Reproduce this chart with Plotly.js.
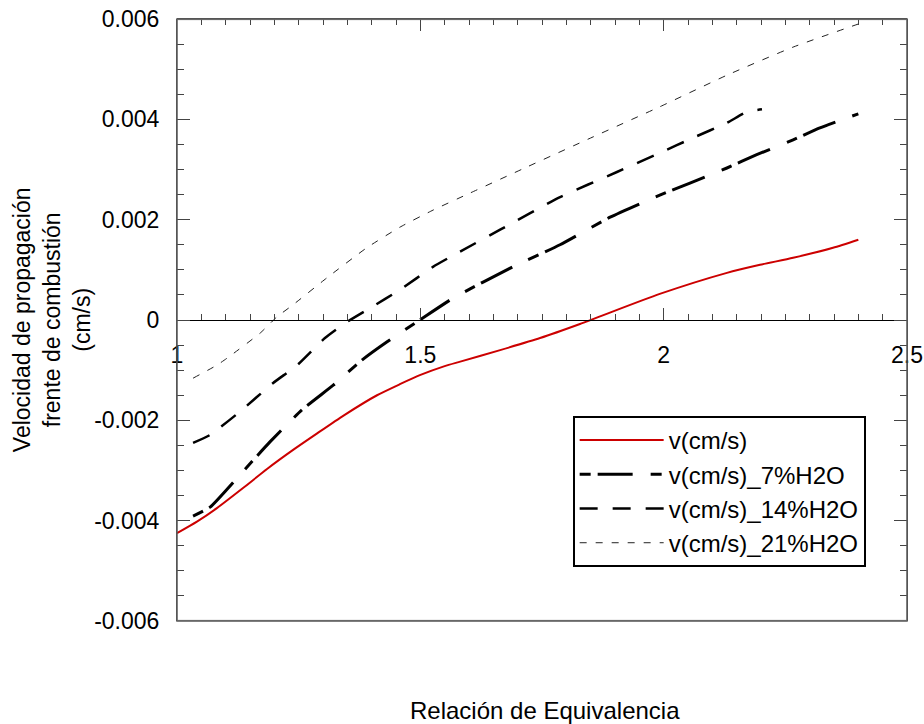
<!DOCTYPE html>
<html>
<head>
<meta charset="utf-8">
<script src="https://cdn.plot.ly/plotly-3.0.1.min.js"></script>
<style>html,body{margin:0;padding:0;background:#fff;}#chart{width:924px;height:724px;}</style>
</head>
<body>
<div id="chart"></div>
<script>
// Series names
const seriesNames = ["v(cm/s)", "v(cm/s)_7%H2O", "v(cm/s)_14%H2O", "v(cm/s)_21%H2O"];

// v(cm/s)
const x0 = [1.0, 1.041, 1.082, 1.137, 1.185, 1.24, 1.288, 1.343, 1.411, 1.458, 1.499, 1.55, 1.582, 1.664, 1.746, 1.828, 1.992, 2.13, 2.198, 2.266, 2.348, 2.4];
const y0 = [-0.00425, -0.00402, -0.00375, -0.00334, -0.00297, -0.00258, -0.00226, -0.0019, -0.0015, -0.00128, -0.0011, -0.00092, -0.00083, -0.0006, -0.00036, -0.00008, 0.00052, 0.00094, 0.0011, 0.00124, 0.00144, 0.0016];

// v(cm/s)_7%H2O
const x7 = [1.033, 1.068, 1.129, 1.191, 1.257, 1.321, 1.38, 1.431, 1.499, 1.568, 1.69, 1.787, 1.89, 1.992, 2.054, 2.13, 2.19, 2.266, 2.321, 2.4];
const y7 = [-0.00391, -0.00373, -0.00309, -0.00243, -0.00179, -0.0013, -0.0008, -0.00044, 0, 0.00044, 0.00106, 0.0015, 0.00205, 0.00249, 0.00273, 0.00303, 0.00329, 0.00359, 0.00383, 0.00411];

// v(cm/s)_14%H2O
const x14 = [1.033, 1.068, 1.129, 1.197, 1.247, 1.304, 1.349, 1.397, 1.458, 1.526, 1.581, 1.664, 1.787, 1.904, 1.992, 2.06, 2.13, 2.171, 2.202];
const y14 = [-0.00245, -0.00229, -0.00183, -0.00126, -0.0009, -0.00036, -0.00004, 0.00024, 0.0006, 0.00106, 0.00136, 0.0018, 0.00245, 0.00295, 0.00333, 0.00363, 0.00393, 0.00415, 0.0042];

// v(cm/s)_21%H2O
const x21 = [1.033, 1.082, 1.103, 1.171, 1.205, 1.238, 1.308, 1.39, 1.458, 1.526, 1.602, 1.719, 1.855, 1.992, 2.13, 2.266, 2.4];
const y21 = [-0.00116, -0.0009, -0.00076, -0.00026, 0.00006, 0.0003, 0.00084, 0.00144, 0.00185, 0.00219, 0.00253, 0.00305, 0.00365, 0.00425, 0.00488, 0.00544, 0.0059];

// Tick labels
const yTickVals = [-0.006, -0.004, -0.002, 0, 0.002, 0.004, 0.006];
const yTickText = ["-0.006", "-0.004", "-0.002", "0", "0.002", "0.004", "0.006"];
const xTickVals = [1, 1.5, 2, 2.5];
const xTickText = ["1", "1.5", "2", "2.5"];
const xTickBlank = ["", "", "", ""];

const FONT = "Liberation Sans, Arial, sans-serif";

const traces = [
  {x: x0, y: y0, name: seriesNames[0], mode: "lines", line: {color: "#cc0000", width: 2, shape: "spline", smoothing: 0.6}},
  {x: x7, y: y7, name: seriesNames[1], mode: "lines", line: {color: "#000", width: 3, dash: "11px,7px,35px,18px", shape: "spline", smoothing: 0.5}},
  {x: x14, y: y14, name: seriesNames[2], mode: "lines", line: {color: "#000", width: 2.5, dash: "18px,15px", shape: "spline", smoothing: 0.5}},
  {x: x21, y: y21, name: seriesNames[3], mode: "lines", line: {color: "#222", width: 1, dash: "7px,9px", shape: "spline", smoothing: 0.5}},
  // invisible carrier for the thin top-strip subplot that carries the top ticks
  {x: x0, y: y0, xaxis: "x2", yaxis: "y2", mode: "lines", opacity: 0, line: {width: 0}, showlegend: false, hoverinfo: "skip"}
];

const minorX = {dtick: 0.05, tick0: 1, ticks: "inside", ticklen: 6, tickcolor: "#444", showgrid: false};

const layout = {
  width: 924, height: 724,
  margin: {l: 177, r: 17, t: 19, b: 103},
  paper_bgcolor: "#fff", plot_bgcolor: "rgba(0,0,0,0)",
  font: {family: FONT, size: 23, color: "#000"},
  showlegend: true,
  legend: {
    x: 0.542, y: 0.3405, xanchor: "left", yanchor: "top",
    bordercolor: "#000", borderwidth: 2, bgcolor: "#fff",
    font: {family: FONT, size: 24, color: "#000"},
    itemwidth: 84, tracegroupgap: 0
  },
  // axis along y = 0 with labels below
  xaxis: {
    range: [1, 2.5], anchor: "free", position: 0.5,
    tickmode: "array", tickvals: xTickVals, ticktext: xTickText,
    ticks: "inside", ticklen: 12, tickwidth: 1, tickcolor: "#444",
    minor: minorX,
    showline: true, linecolor: "#000", linewidth: 1,
    showgrid: false, zeroline: false,
    ticklabelstandoff: 14,
    tickfont: {family: FONT, size: 23, color: "#000"}
  },
  // top frame ticks on a thin strip subplot at the top of the plot
  xaxis2: {
    range: [1, 2.5], domain: [0, 1], anchor: "y2", side: "top",
    tickmode: "array", tickvals: xTickVals, ticktext: xTickBlank,
    ticks: "inside", ticklen: 12, tickwidth: 1, tickcolor: "#444",
    minor: minorX,
    showline: true, linecolor: "#555", linewidth: 1,
    showgrid: false, zeroline: false,
    tickfont: {family: FONT, size: 10, color: "#000"}
  },
  yaxis: {
    range: [-0.006, 0.006], domain: [0, 1],
    tickmode: "array", tickvals: yTickVals, ticktext: yTickText,
    ticks: "inside", ticklen: 13, tickwidth: 1, tickcolor: "#444",
    minor: {dtick: 0.0005, tick0: 0, ticks: "inside", ticklen: 7, tickcolor: "#444", showgrid: false},
    showline: true, linecolor: "#555", linewidth: 1, mirror: "ticks",
    showgrid: false, zeroline: false,
    ticklabelstandoff: 12,
    tickfont: {family: FONT, size: 23, color: "#000"}
  },
  yaxis2: {
    domain: [0.98, 1], anchor: "x2", range: [-0.006, 0.006],
    visible: false, showgrid: false, zeroline: false
  },
  shapes: [
    {type: "rect", xref: "paper", yref: "paper", x0: 0, x1: 1, y0: 0, y1: 1, line: {color: "#555", width: 1.5}, fillcolor: "rgba(0,0,0,0)", layer: "above"},
    {type: "line", xref: "paper", yref: "paper", x0: 0, x1: 1, y0: 0.999, y1: 0.999, line: {color: "#666", width: 1}, layer: "above"},
    {type: "line", xref: "paper", yref: "paper", x0: 0, x1: 1, y0: 0.001, y1: 0.001, line: {color: "#666", width: 1}, layer: "above"}
  ],
  annotations: [
    {text: "Velocidad de propagación<br>frente de combustión<br>(cm/s)", xref: "paper", yref: "paper",
     x: -0.171, y: 0.5, xanchor: "center", yanchor: "middle", textangle: -90, showarrow: false,
     font: {family: FONT, size: 23, color: "#000"}},
    {text: "Relación de Equivalencia", xref: "paper", yref: "paper",
     x: 0.504, y: -0.148, xanchor: "center", yanchor: "middle", showarrow: false,
     font: {family: FONT, size: 24, color: "#000"}}
  ]
};

Plotly.newPlot("chart", traces, layout, {displayModeBar: false, staticPlot: true});
</script>
</body>
</html>
